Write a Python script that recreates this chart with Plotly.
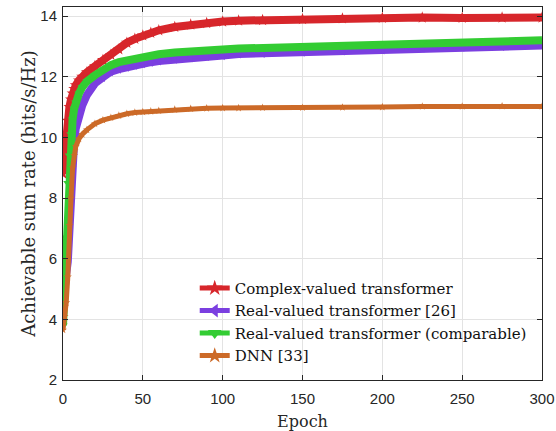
import plotly.graph_objects as go

epochs = [0, 1, 2, 3, 4, 5, 6, 7, 8, 10, 12, 15, 20, 25, 30, 35, 40, 45, 50, 55, 60,
          70, 80, 90, 100, 110, 125, 150, 175, 200, 225, 250, 275, 300]

complex_tf = [8.8, 9.5, 10.1, 10.55, 11.0, 11.25, 11.45, 11.6, 11.72, 11.88, 12.0, 12.15,
              12.35, 12.55, 12.72, 12.9, 13.12, 13.25, 13.36, 13.45, 13.53, 13.64, 13.72,
              13.77, 13.82, 13.85, 13.87, 13.9, 13.92, 13.94, 13.95, 13.94, 13.95, 13.95]

real_tf = [4.45, 5.3, 5.5, 5.9, 7.1, 8.0, 9.3, 9.9, 10.3, 10.8, 11.05, 11.4, 11.78, 11.98,
           12.17, 12.25, 12.32, 12.38, 12.43, 12.48, 12.52, 12.58, 12.63, 12.67, 12.7,
           12.75, 12.77, 12.81, 12.85, 12.89, 12.95, 12.98, 13.0, 13.03]

real_tf_comp = [3.8, 5.0, 6.7, 8.5, 9.4, 10.1, 10.6, 10.95, 11.15, 11.45, 11.65, 11.85,
                12.05, 12.22, 12.38, 12.48, 12.54, 12.6, 12.65, 12.7, 12.74, 12.8, 12.85,
                12.88, 12.9, 12.93, 12.95, 12.98, 13.03, 13.08, 13.13, 13.15, 13.18, 13.2]

dnn = [3.65, 4.1, 4.55, 5.4, 7.1, 8.0, 9.0, 9.4, 9.7, 9.95, 10.1, 10.25, 10.45, 10.57,
       10.65, 10.72, 10.78, 10.82, 10.84, 10.86, 10.88, 10.92, 10.95, 10.96, 10.97, 10.97,
       10.98, 10.98, 10.99, 11.0, 11.02, 11.02, 11.03, 11.02]

names = ["Complex-valued transformer", "Real-valued transformer [26]",
         "Real-valued transformer (comparable)", "DNN [33]"]
series = [complex_tf, real_tf, real_tf_comp, dnn]
colors = ["#d7262b", "#7b3fe0", "#33cc33", "#cc6a28"]
symbols = ["star", "triangle-left", "triangle-down", "star"]
msizes = [9, 8, 8, 6]
bandw = [8, 8, 8, 5]

fig = go.Figure()
for name, ys, c, sym, ms, bw in zip(names, series, colors, symbols, msizes, bandw):
    fig.add_trace(go.Scatter(x=epochs, y=ys, mode="lines", showlegend=False,
                             line=dict(color=c, width=bw), hoverinfo="skip"))
    fig.add_trace(go.Scatter(x=epochs, y=ys, mode="lines+markers", name=name,
                             line=dict(color=c, width=2.5),
                             marker=dict(symbol=sym, size=ms, color=c,
                                         line=dict(width=0))))

axis_common = dict(
    showline=True, linecolor="#262626", linewidth=1, mirror="ticks",
    ticks="inside", ticklen=5, tickcolor="#262626",
    showgrid=True, gridcolor="#e3e3e3", gridwidth=1, zeroline=False,
    tickfont=dict(family="Liberation Sans, Arial, sans-serif", size=15, color="#262626"),
)

fig.update_layout(
    width=556, height=431,
    margin=dict(l=63, r=14, t=7, b=51),
    paper_bgcolor="white", plot_bgcolor="white",
    xaxis=dict(range=[0, 300], tickvals=[0, 50, 100, 150, 200, 250, 300],
               ticklabelstandoff=5, automargin=False,
               title=dict(text="Epoch", standoff=9,
                          font=dict(family="DejaVu Serif, serif", size=16, color="#262626")),
               **axis_common),
    yaxis=dict(range=[2, 14.3], tickvals=[2, 4, 6, 8, 10, 12, 14],
               ticklabelstandoff=2, automargin=False,
               title=dict(text="Achievable sum rate (bits/s/Hz)", standoff=0,
                          font=dict(family="DejaVu Serif, serif", size=18, color="#262626")),
               **axis_common),
    legend=dict(x=0.275, y=0.29, xanchor="left", yanchor="top",
                bgcolor="rgba(0,0,0,0)", borderwidth=0,
                font=dict(family="DejaVu Serif, serif", size=15, color="#111111"),
                tracegroupgap=0, itemsizing="constant"),
    showlegend=True,
)

fig.write_html("out.html", config={"displayModeBar": False},
               post_script="document.body.style.margin='0';document.body.style.padding='0';")
